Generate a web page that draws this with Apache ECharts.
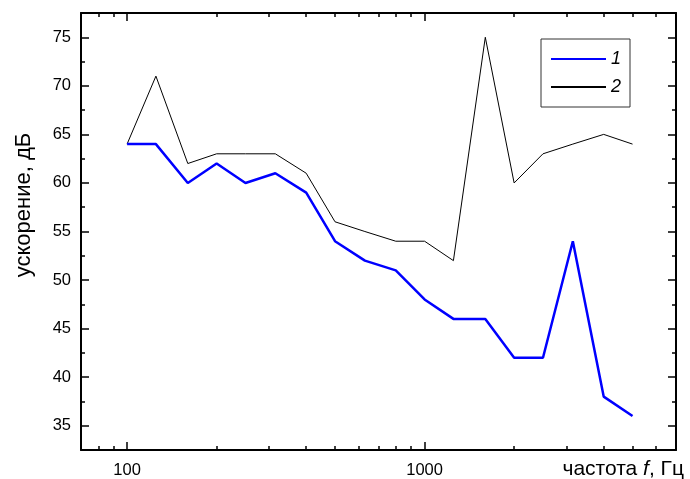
<!DOCTYPE html>
<html>
<head>
<meta charset="utf-8">
<script src="https://cdn.jsdelivr.net/npm/echarts@6/dist/echarts.min.js"></script>
<style>
  html, body { margin: 0; padding: 0; background: #fff; }
  #chart { width: 690px; height: 479px; }
</style>
</head>
<body>
<div id="chart"></div>
<script>
// Данные
const freq = [100, 125, 160, 200, 250, 315, 400, 500, 630, 800, 1000, 1250, 1600, 2000, 2500, 3150, 4000, 5000];
const accel1 = [64, 64, 60, 62, 60, 61, 59, 54, 52, 51, 48, 46, 46, 42, 42, 54, 38, 36];
const accel2 = [64, 71, 62, 63, 63, 63, 61, 56, 55, 54, 54, 52, 75, 60, 63, 64, 65, 64];

const xMajor = [100, 1000];
const xMinor = [80, 90, 200, 300, 400, 500, 600, 700, 800, 900, 2000, 3000, 4000, 5000, 6000, 7000];
const yMajor = [35, 40, 45, 50, 55, 60, 65, 70, 75];
const yMinor = [37.5, 42.5, 47.5, 52.5, 57.5, 62.5, 67.5, 72.5];

const FONT = 'Liberation Sans, Arial, sans-serif';

document.addEventListener('DOMContentLoaded', function() {
    const chart = echarts.init(document.getElementById('chart'));

    const lineStyle = { color: '#000', width: 2 };

    function xAxis(pos, ticks, len, main, withLabels) {
        return {
            type: 'log', logBase: 10, min: 70, max: 7000, position: pos,
            axisLine: { show: main, lineStyle: lineStyle },
            axisTick: { show: true, inside: true, length: len, customValues: ticks, lineStyle: { color: '#000', width: 1.5 } },
            axisLabel: {
                show: withLabels, customValues: ticks, margin: 12,
                color: '#000', fontFamily: FONT, fontSize: 16.5,
                formatter: function(v) { return String(Math.round(v)); }
            },
            splitLine: { show: false }
        };
    }

    function yAxis(pos, ticks, len, main, withLabels) {
        return {
            type: 'value', min: 32.5, max: 77.5, position: pos,
            axisLine: { show: main, lineStyle: lineStyle },
            axisTick: { show: true, inside: true, length: len, customValues: ticks, lineStyle: { color: '#000', width: 1.5 } },
            axisLabel: {
                show: withLabels, customValues: ticks, margin: 10,
                color: '#000', fontFamily: FONT, fontSize: 16.5
            },
            splitLine: { show: false }
        };
    }

    chart.setOption({
        animation: false,
        grid: { left: 81, right: 14, top: 13, bottom: 28, containLabel: false },
        xAxis: [
            xAxis('bottom', xMajor, 8, true, true),
            xAxis('bottom', xMinor, 4, false, false),
            xAxis('top', xMajor, 8, true, false),
            xAxis('top', xMinor, 4, false, false)
        ],
        yAxis: [
            yAxis('left', yMajor, 8, true, true),
            yAxis('left', yMinor, 4, false, false),
            yAxis('right', yMajor, 8, true, false),
            yAxis('right', yMinor, 4, false, false)
        ],
        legend: {
            orient: 'vertical',
            left: 541, top: 39,
            padding: [11, 9, 11, 9],
            itemGap: 10,
            itemWidth: 55,
            itemHeight: 14,
            borderColor: '#333',
            borderWidth: 1,
            itemStyle: { opacity: 0 },
            textStyle: { fontFamily: FONT, fontSize: 18, fontStyle: 'italic', color: '#000' },
            data: ['1', '2']
        },
        graphic: [
            {
                type: 'text', x: 24, y: 205, rotation: Math.PI / 2,
                style: { text: 'ускорение, дБ', font: '22px ' + FONT, fill: '#000', align: 'center', verticalAlign: 'middle' }
            },
            {
                type: 'text', x: 684, y: 469,
                style: {
                    text: 'частота {i|f}, Гц',
                    font: '21px ' + FONT, fill: '#000', align: 'right', verticalAlign: 'middle',
                    rich: { i: { fontStyle: 'italic', fontSize: 21, fontFamily: FONT } }
                }
            }
        ],
        series: [
            {
                name: '1', type: 'line', xAxisIndex: 0, yAxisIndex: 0,
                data: freq.map((f, i) => [f, accel1[i]]),
                symbol: 'none',
                lineStyle: { color: '#0000ff', width: 2.5 },
                itemStyle: { color: '#0000ff' },
                z: 3
            },
            {
                name: '2', type: 'line', xAxisIndex: 0, yAxisIndex: 0,
                data: freq.map((f, i) => [f, accel2[i]]),
                symbol: 'none',
                lineStyle: { color: '#000', width: 1 },
                itemStyle: { color: '#000' },
                z: 2
            }
        ]
    });
});
</script>
</body>
</html>
